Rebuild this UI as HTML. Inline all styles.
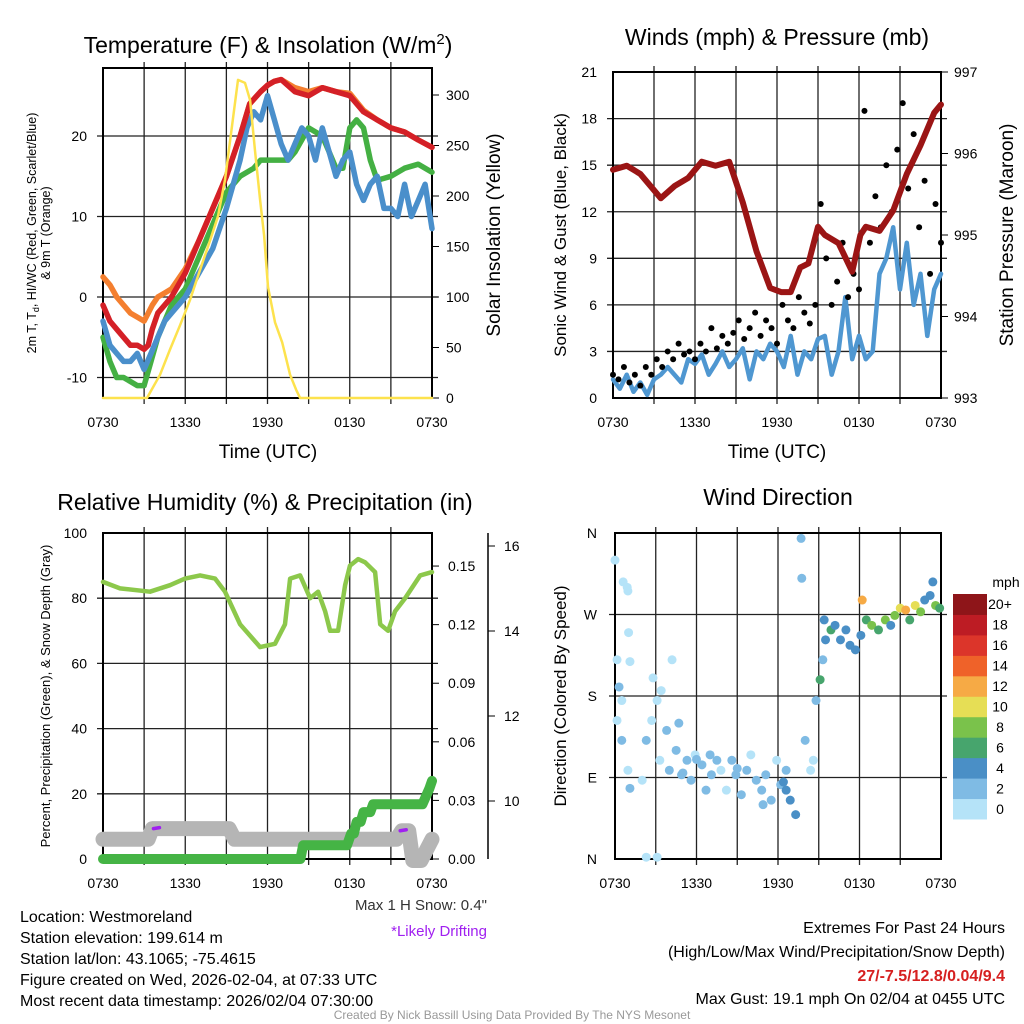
<!DOCTYPE html>
<html><head><meta charset="utf-8"><style>
body{margin:0;background:#fff}
svg{display:block;font-family:"Liberation Sans",sans-serif}
</style></head><body>
<svg id="s" width="1024" height="1024" viewBox="0 0 1024 1024" xmlns="http://www.w3.org/2000/svg">
<rect width="1024" height="1024" fill="#fff"/>
<g id="g1"></g>
<g id="g2"></g>
<g id="g3"></g>
<g id="g4"></g>
<g font-size="16" fill="#000">
<text x="20" y="922">Location: Westmoreland</text>
<text x="20" y="943">Station elevation: 199.614 m</text>
<text x="20" y="964">Station lat/lon: 43.1065; -75.4615</text>
<text x="20" y="985">Figure created on Wed, 2026-02-04, at 07:33 UTC</text>
<text x="20" y="1006">Most recent data timestamp: 2026/02/04 07:30:00</text>
</g>
<text x="487" y="910" font-size="15" text-anchor="end" fill="#333">Max 1 H Snow: 0.4"</text>
<text x="487" y="936" font-size="15" text-anchor="end" fill="#a020f0">*Likely Drifting</text>
<g font-size="16" text-anchor="end">
<text x="1005" y="933">Extremes For Past 24 Hours</text>
<text x="1005" y="957">(High/Low/Max Wind/Precipitation/Snow Depth)</text>
<text x="1005" y="981" font-weight="bold" fill="#d62020">27/-7.5/12.8/0.04/9.4</text>
<text x="1005" y="1004">Max Gust: 19.1 mph On 02/04 at 0455 UTC</text>
</g>
<text x="512" y="1019" font-size="12" text-anchor="middle" fill="#999">Created By Nick Bassill Using Data Provided By The NYS Mesonet</text>
</svg>
<script>
// ---------- data ----------
const xTickLabels = ["0730","1330","1930","0130","0730"];
// Panel 1
const tempTicks = [-10,0,10,20];
const solarTicks = [0,50,100,150,200,250,300];
const redH = [0,0.5,1,1.5,2,2.5,3,3.3,3.6,4,4.5,5,6,7,8,9,10,10.7,11.5,12,12.5,13,14,15,16,17,18,19,20,21,22,23,24];
const redV = [-1,-3,-4,-5,-6,-6,-6.5,-6,-4,-2,-1,0,3,7,11,15,20,24,25.5,26.3,26.8,27,25.5,25,26,25.5,25,23,22,21,20.5,19.5,18.6];
const orangeV = [2.5,1.5,0,-1,-2,-2.5,-3,-2,-1,0,0.5,1,3.5,7,11,15,20,24,25.5,26.3,26.8,27,26,25.5,26,25.5,25.3,23.2,22,21,20.5,19.5,18.6];
const greenH = [0,0.5,1,1.5,2,2.5,3,3.5,4,4.5,5,6,7,8,9,10,11,11.5,12,12.5,13,13.5,14,15,16,16.5,17,17.5,18,18.5,19,19.5,20,21,22,23,24];
const greenV = [-5,-8,-10,-10,-10.5,-11,-11,-8,-5,-3,-1,1,5,9,13,15,16,17,17,17,17,17,18,21,20,18,16,16,21,22,21,17,14.5,15,16,16.5,15.5];
const blueH = [0,0.5,1,1.5,2,2.5,3,3.5,4,4.5,5,6,7,8,9,10,10.5,11,11.5,12,12.5,13,13.5,14,14.5,15,15.5,16,16.5,17,17.5,18,18.5,19,19.5,20,20.5,21,21.5,22,22.5,23,23.5,24];
const blueV = [-3,-6,-7,-8,-8,-7,-9,-7,-5,-3,-2,0,3,6,11,17,21,23,22,25,22,19,17,19,21,20,17,21,18,15,17,18,14,12,14,15,11,11,10,14,10,12,14,8.5];
const solarH = [0,3.21,4.16,4.89,5.62,6.35,7.08,7.81,8.39,8.9,9.42,9.85,10.36,10.73,11.09,11.46,11.75,12.04,12.55,13.07,13.65,14.09,14.38,24];
const solarV = [0,0,23,48,72,97,127,156,180,216,270,315,312,295,245,196,161,110,75,55,23,8,0,0];
// Panel 2
const windTicks = [0,3,6,9,12,15,18,21];
const presTicks = [993,994,995,996,997];
const presH = [0,1,2,3,3.5,4.5,5.5,6.5,7.5,8.5,9.5,10.5,11.5,12.3,13,13.7,14.3,15,15.5,16.5,17.5,18.1,18.5,19.5,20.5,21.5,22.5,23.5,24];
const presV = [995.8,995.85,995.75,995.55,995.45,995.6,995.7,995.9,995.85,995.9,995.4,994.8,994.35,994.3,994.3,994.6,994.65,995.1,995.0,994.9,994.55,995.0,995.1,995.05,995.3,995.75,996.1,996.5,996.6];
const windV = [1.2,0.6,1.5,0.4,1,0.2,1.2,1.5,2,1.5,1,2.5,2.2,2.8,1.5,2.2,3,2,2.5,3.2,1.2,3,2.5,3.5,3,2,4,1.5,3,2.5,3.8,4,1.5,3,6.5,2.5,4,2.5,3,8,9,11,7,10,6,8,4,7,8];
const gustV = [1.5,1.2,2,1,1.5,0.8,2,1.5,2.5,2,3,2.5,3.5,2.8,3,2.5,3.5,3,4.5,3.2,4,3.5,4.2,5,3.8,4.5,5.5,4,5,4.5,3.5,6,5,4.5,6.5,5.5,4.8,6,12.5,9,6,7.5,10,6.5,8,7,18.5,10,13,11,15,12,16,19,13.5,17,11,14,8,12.5,10];
// Panel 3
const rhTicks = [0,20,40,60,80,100];
const precipTicks = [0,0.03,0.06,0.09,0.12,0.15];
const precipTickLabels = ["0.00","0.03","0.06","0.09","0.12","0.15"];
const snowTicks = [10,12,14,16];
const rhH = [0,1.24,3.43,4.89,5.99,7.08,8.18,8.9,10,11.46,12.55,13.28,13.65,14.38,15.11,15.69,16.2,16.57,17.15,17.66,18.02,18.61,19.12,19.85,20.22,20.8,21.31,22.04,23.14,24];
const rhV = [85,83,82,84,86,87,86,82,72,65,66,72,86,87,80,82,76,70,70,84,90,92,91,88,72,70,76,80,87,88];
const precipH = [0,14.4,14.6,17.8,18.1,18.3,18.5,18.8,19,19.5,19.7,23.3,23.8,24];
const precipV = [0,0,0.007,0.007,0.013,0.013,0.019,0.019,0.024,0.024,0.028,0.028,0.036,0.04];
const snowH = [0,3.3,3.6,9.2,9.6,14.5,21.4,21.8,22.3,22.6,23.2,24];
const snowV = [9.1,9.1,9.35,9.35,9.1,9.1,9.1,9.3,9.3,8.6,8.6,9.1];
// Panel 4
const dirTickLabels = ["N","E","S","W","N"];
const speedLabels = ["0","2","4","6","8","10","12","14","16","18","20+"];
const dirH = [0,0.6,0.9,0.95,0.15,1.0,1.1,0.5,0.15,0.95,1.1,0.5,0.3,2.3,3.1,2.0,2.3,2.7,3.1,3.4,3.3,3.8,4.2,4.0,4.5,4.9,5.3,5.6,5.9,6.4,6.7,7.1,7.5,7.8,8.2,8.6,8.9,9.3,9.7,10.0,10.4,10.8,11.1,11.5,11.9,12.2,12.6,12.9,13.3,12.6,13.7,13.75,14.0,14.4,14.6,14.8,15.1,15.3,15.5,15.4,15.9,16.2,16.6,17.0,17.3,17.7,18.1,18.2,18.5,18.9,19.4,19.9,20.3,20.6,21.0,21.4,21.7,22.1,22.5,22.8,23.2,23.4,23.6,23.9,2.8,4.7,6.0,9.0,10.9,12.4,5.0,7.0];
const dirV = [330,306,300,296,220,250,218,175,153,98,78,131,190,2,2,87,131,153,175,186,109,142,220,98,120,93,109,87,115,104,76,93,109,98,76,109,93,71,98,115,87,76,93,65,109,82,98,65,49,76,354,310,131,98,109,175,198,220,242,264,253,258,242,253,236,231,247,286,264,258,253,264,258,269,277,275,264,280,273,286,291,306,280,277,200,150,110,100,60,85,95,115];
const dirS = [1,1,0,0,1,0,0,1,1,1,2,2,2,0,0,0,2,0,1,0,1,3,0,2,2,3,2,3,1,2,3,2,3,1,1,2,3,3,2,1,2,2,3,3,1,3,2,4,4,4,2,2,2,1,1,2,6,2,5,5,6,4,4,4,4,4,4,12,7,8,6,8,4,9,10,12,6,10,8,5,5,4,9,7,1,2,3,2,3,4,2,3];
const speedColors = ["#b5e3f8","#7fbbe4","#4a8fc6","#47a56d","#7ac24b","#e6de55","#f6aa45","#ef6229","#dc352a","#bd1c24","#8e1519"];

// ---------- helpers ----------
const NS="http://www.w3.org/2000/svg";
function el(parent,tag,attrs,text){const e=document.createElementNS(NS,tag);for(const k in attrs)e.setAttribute(k,attrs[k]);if(text!==undefined)e.textContent=text;parent.appendChild(e);return e;}
function pathD(hs,vs,fx,fy){return hs.map((h,i)=>(i?'L':'M')+fx(h).toFixed(1)+','+fy(vs[i]).toFixed(1)).join('');}
function frame(g,x0,x1,y0,y1,hy){
  for(let h=3;h<24;h+=3){const x=x0+(x1-x0)*h/24;
    const l=el(g,'line',{x1:x,x2:x,y1:y0-6,y2:y1+6,stroke:'#222','stroke-width':1.3});
    
    }
  hy.forEach(y=>{const l=el(g,'line',{x1:x0-6,x2:x1+6,y1:y,y2:y,stroke:'#222','stroke-width':1.3});
    
    });
  const r=el(g,'rect',{x:x0,y:y0,width:x1-x0,height:y1-y0,fill:'none',stroke:'#000','stroke-width':2});
  
  
  xTickLabels.forEach((t,i)=>{const x=x0+(x1-x0)*i/4;
    const tx=el(g,'text',{x:x,y:y1+29,'font-size':14,'text-anchor':'middle'},t);
    
    });
}
function txt(g,attrs,s,name){const t=el(g,'text',attrs,s);return t;}
function line(g,d,stroke,w,name,extra){const p=el(g,'path',Object.assign({d:d,fill:'none',stroke:stroke,'stroke-width':w,'stroke-linecap':'round','stroke-linejoin':'round'},extra||{}));return p;}

// ---------- panel 1 ----------
(function(){
  const g=document.getElementById('g1');
  const x0=103,x1=432,y0=68,y1=398;
  const fx=h=>x0+(x1-x0)*h/24, fy=v=>297-v*8.05, fs=v=>398-v*1.01;
  frame(g,x0,x1,y0,y1,tempTicks.map(fy));
  tempTicks.forEach(v=>txt(g,{x:87,y:fy(v)+5,'font-size':14,'text-anchor':'end'},v,'left-tick-label'));
  solarTicks.forEach(v=>{txt(g,{x:446,y:fs(v)+5,'font-size':14},v,'right-tick-label');
    const t=el(g,'line',{x1:x1,x2:x1+7,y1:fs(v),y2:fs(v),stroke:'#000'});});
  line(g,pathD(redH,orangeV,fx,fy),'#f47f2f',5.5,'series-9m-temp');
  line(g,pathD(greenH,greenV,fx,fy),'#44b043',5.5,'series-dewpoint');
  line(g,pathD(blueH,blueV,fx,fy),'#4a8fcb',5.5,'series-windchill');
  line(g,pathD(redH,redV,fx,fy),'#d42027',5.5,'series-2m-temp');
  line(g,pathD(solarH,solarV,fx,fs),'#fde24d',2.5,'series-solar');
  txt(g,{x:268,y:53,'font-size':23,'text-anchor':'middle'},'','chart-title').innerHTML='Temperature (F) &amp; Insolation (W/m<tspan dy="-9" font-size="15">2</tspan><tspan dy="9">)</tspan>';
  txt(g,{x:268,y:458,'font-size':19,'text-anchor':'middle'},'Time (UTC)','x-axis-title');
  txt(g,{x:0,y:0,'font-size':12.5,'text-anchor':'middle',transform:'translate(36,233) rotate(-90)'},'','y-axis-title').innerHTML='2m T, T<tspan dy="3" font-size="9">d</tspan><tspan dy="-3">, HI/WC (Red, Green, Scarlet/Blue)</tspan>';
  txt(g,{x:0,y:0,'font-size':12.5,'text-anchor':'middle',transform:'translate(50,233) rotate(-90)'},'& 9m T (Orange)','y-axis-title-2');
  txt(g,{x:0,y:0,'font-size':19,'text-anchor':'middle',transform:'translate(500,235) rotate(-90)'},'Solar Insolation (Yellow)','y2-axis-title');
})();

// ---------- panel 2 ----------
(function(){
  const g=document.getElementById('g2');
  const x0=613,x1=941,y0=72,y1=398;
  const fx=h=>x0+(x1-x0)*h/24, fy=v=>398-v*15.52, fp=p=>398-(p-993)*81.5;
  frame(g,x0,x1,y0,y1,windTicks.slice(1,-1).map(fy));
  windTicks.forEach(v=>txt(g,{x:597,y:fy(v)+5,'font-size':14,'text-anchor':'end'},v,'left-tick-label'));
  presTicks.forEach(v=>{txt(g,{x:954,y:fp(v)+5,'font-size':14},v,'right-tick-label');
    const t=el(g,'line',{x1:x1,x2:x1+7,y1:fp(v),y2:fp(v),stroke:'#000'});});
  const wH=windV.map((v,i)=>i*0.5);
  line(g,pathD(wH,windV,fx,fy),'#4f97d1',4.5,'series-wind');
  gustV.forEach((v,i)=>{const c=el(g,'circle',{cx:fx(i*0.4),cy:fy(v),r:3,fill:'#000'});
    
    });
  line(g,pathD(presH,presV,fx,fp),'#9b1515',6,'series-pressure');
  txt(g,{x:777,y:45,'font-size':23,'text-anchor':'middle'},'Winds (mph) & Pressure (mb)','chart-title');
  txt(g,{x:777,y:458,'font-size':19,'text-anchor':'middle'},'Time (UTC)','x-axis-title');
  txt(g,{x:0,y:0,'font-size':17,'text-anchor':'middle',transform:'translate(566,235) rotate(-90)'},'Sonic Wind & Gust (Blue, Black)','y-axis-title');
  txt(g,{x:0,y:0,'font-size':19,'text-anchor':'middle',transform:'translate(1013,235) rotate(-90)'},'Station Pressure (Maroon)','y2-axis-title');
})();

// ---------- panel 3 ----------
(function(){
  const g=document.getElementById('g3');
  const x0=103,x1=432,y0=533,y1=859;
  const fx=h=>x0+(x1-x0)*h/24, fy=v=>859-v*3.26, fp=v=>859-v*1953, fsn=v=>801-(v-10)*42.5;
  frame(g,x0,x1,y0,y1,rhTicks.slice(1,-1).map(fy));
  rhTicks.forEach(v=>txt(g,{x:87,y:fy(v)+5,'font-size':14,'text-anchor':'end'},v,'left-tick-label'));
  precipTicks.forEach((v,i)=>{txt(g,{x:448,y:fp(v)+5,'font-size':14},precipTickLabels[i],'precip-tick-label');
    const t=el(g,'line',{x1:x1,x2:x1+7,y1:fp(v),y2:fp(v),stroke:'#000'});});
  const sp=el(g,'line',{x1:488,x2:488,y1:533,y2:859,stroke:'#000','stroke-width':1.5});
  snowTicks.forEach(v=>{txt(g,{x:504,y:fsn(v)+5,'font-size':14},v,'snow-tick-label');
    const t=el(g,'line',{x1:488,x2:495,y1:fsn(v),y2:fsn(v),stroke:'#000'});});
  line(g,pathD(snowH,snowV,fx,fsn),'#b5b5b5',15,'series-snow-depth');
  line(g,pathD(precipH,precipV,fx,fp),'#45b445',10,'series-precip');
  line(g,pathD(rhH,rhV,fx,fy),'#8cc84b',4.5,'series-rh');
  [[3.9,9.35],[21.9,9.3]].forEach(p=>{line(g,'M'+(fx(p[0])-3)+','+fsn(p[1])+'l6,-1','#a020f0',3.5,'drifting-mark');});
  txt(g,{x:265,y:510,'font-size':23,'text-anchor':'middle'},'Relative Humidity (%) & Precipitation (in)','chart-title');
  txt(g,{x:0,y:0,'font-size':13,'text-anchor':'middle',transform:'translate(50,696) rotate(-90)'},'Percent, Precipitation (Green), & Snow Depth (Gray)','y-axis-title');
})();

// ---------- panel 4 ----------
(function(){
  const g=document.getElementById('g4');
  const x0=615,x1=941,y0=533,y1=859;
  const fx=h=>x0+(x1-x0)*h/24, fy=d=>859-d*(y1-y0)/360;
  frame(g,x0,x1,y0,y1,[90,180,270].map(fy));
  dirTickLabels.forEach((t,i)=>txt(g,{x:597,y:fy(i*90)+5,'font-size':14,'text-anchor':'end'},t,'direction-tick-label'));
  dirH.forEach((h,i)=>{const ci=Math.min(10,Math.floor(dirS[i]/2));
    const c=el(g,'circle',{cx:fx(h),cy:fy(dirV[i]),r:4.5,fill:speedColors[ci]});
    
    });
  const bh=225/11;
  speedColors.forEach((c,i)=>{const y=819-(i+1)*bh;
    const r=el(g,'rect',{x:953,y:y,width:34,height:bh+0.5,fill:c});
    
    
    txt(g,{x:1000,y:y+bh/2+5,'font-size':14,'text-anchor':'middle'},speedLabels[i],'colorbar-label');});
  txt(g,{x:1006,y:587,'font-size':14,'text-anchor':'middle'},'mph','colorbar-title');
  txt(g,{x:778,y:505,'font-size':23,'text-anchor':'middle'},'Wind Direction','chart-title');
  txt(g,{x:0,y:0,'font-size':17,'text-anchor':'middle',transform:'translate(566,696) rotate(-90)'},'Direction (Colored By Speed)','y-axis-title');
})();
</script>
</body></html>
